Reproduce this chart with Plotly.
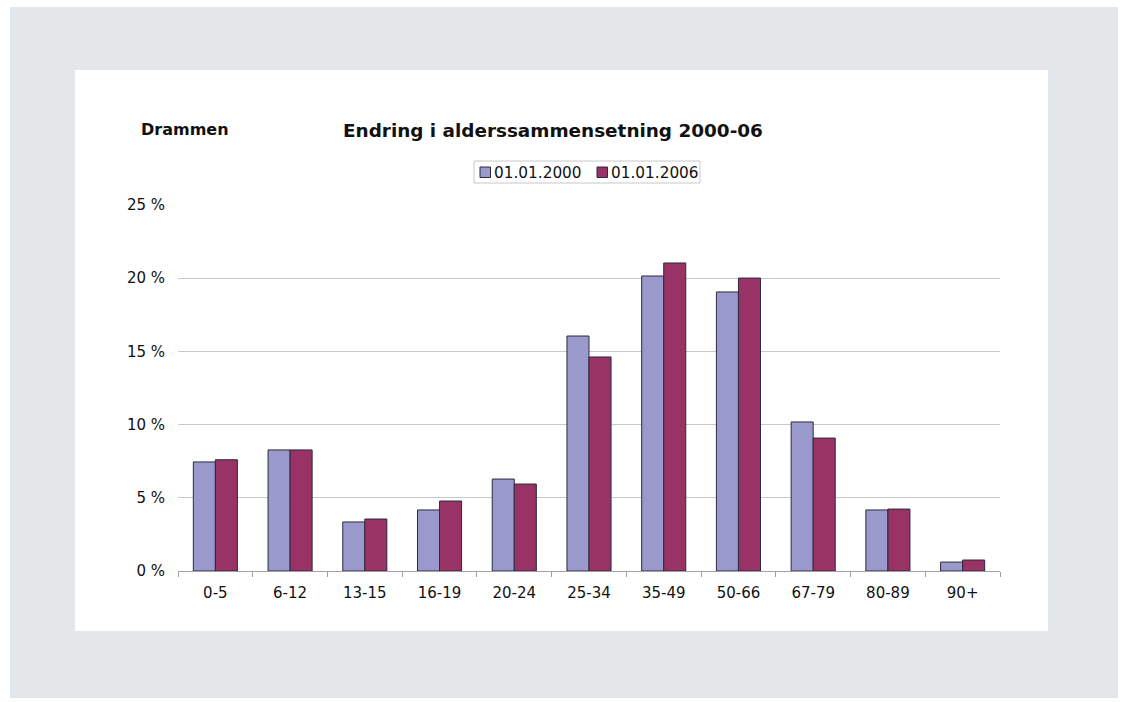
import plotly.graph_objects as go

# Age groups and share of population (%) in Drammen
age_groups = ["0-5", "6-12", "13-15", "16-19", "20-24", "25-34",
              "35-49", "50-66", "67-79", "80-89", "90+"]
share_2000 = [7.45, 8.27, 3.35, 4.17, 6.28, 16.05, 20.15, 19.06, 10.18, 4.17, 0.61]
share_2006 = [7.6, 8.27, 3.55, 4.78, 5.94, 14.62, 21.04, 20.01, 9.08, 4.23, 0.75]
series_names = ["01.01.2000", "01.01.2006"]
series_colors = ["#9999cc", "#993366"]
y_ticks = [0, 5, 10, 15, 20, 25]
y_tick_labels = ["0 %", "5 %", "10 %", "15 %", "20 %", "25 %"]

W, H = 1122, 702
L, R, T, B = 178, 1000, 205, 571  # plot area in pixels


def px(x):
    return (x - L) / (R - L)


def py(y):
    return (B - y) / (B - T)


font = "DejaVu Sans, Liberation Sans, Arial, sans-serif"
outline = "#2b2a3f"

fig = go.Figure()
for name, vals, col in zip(series_names, [share_2000, share_2006], series_colors):
    fig.add_trace(go.Bar(
        x=age_groups, y=vals, name=name,
        marker=dict(color=col, line=dict(color=outline, width=1)),
        showlegend=False,
    ))

shapes = [
    # page background and white chart panel
    dict(type="rect", xref="paper", yref="paper", layer="below",
         x0=px(10), x1=px(1118), y0=py(698), y1=py(7),
         fillcolor="#e4e7ea", line=dict(width=0)),
    dict(type="rect", xref="paper", yref="paper", layer="below",
         x0=px(75), x1=px(1048), y0=py(631), y1=py(70),
         fillcolor="#ffffff", line=dict(width=0)),
    # legend box
    dict(type="rect", xref="paper", yref="paper",
         x0=px(474), x1=px(700), y0=py(183), y1=py(161),
         fillcolor="#ffffff", line=dict(color="#c8c8c8", width=1)),
]

annotations = [
    dict(text="<b>Endring i alderssammensetning 2000-06</b>",
         xref="paper", yref="paper", x=px(553), y=py(130),
         xanchor="center", yanchor="middle", showarrow=False,
         font=dict(family=font, size=18.4, color="#111111")),
    dict(text="<b>Drammen</b>",
         xref="paper", yref="paper", x=px(139), y=py(129),
         xanchor="left", yanchor="middle", showarrow=False,
         font=dict(family=font, size=16, color="#111111")),
]

# legend entries: small outlined square followed by the series name
legend_x = [480, 597]
for name, col, lx in zip(series_names, series_colors, legend_x):
    shapes.append(dict(type="rect", xref="paper", yref="paper",
                       x0=px(lx), x1=px(lx + 10.5), y0=py(177.5), y1=py(167),
                       fillcolor=col, line=dict(color=outline, width=1)))
    annotations.append(dict(text=name, xref="paper", yref="paper",
                            x=px(lx + 12), y=py(172.5),
                            xanchor="left", yanchor="middle", showarrow=False,
                            font=dict(family=font, size=15.3, color="#111111")))

fig.update_layout(
    width=W, height=H,
    margin=dict(l=L, r=W - R, t=T, b=H - B),
    paper_bgcolor="#ffffff",
    plot_bgcolor="rgba(0,0,0,0)",
    barmode="group",
    bargap=0.41,
    bargroupgap=0,
    shapes=shapes,
    annotations=annotations,
    font=dict(family=font, size=14, color="#111111"),
    xaxis=dict(
        showgrid=False,
        showline=True, linecolor="#a0a0a0", linewidth=1,
        ticks="outside", tickson="boundaries", ticklen=5, tickcolor="#a0a0a0",
        ticklabelstandoff=8,
        tickfont=dict(family=font, size=15, color="#111111"),
    ),
    yaxis=dict(
        range=[0, 25],
        tickvals=y_ticks, ticktext=y_tick_labels,
        showgrid=True, gridcolor="#c8c8c8", gridwidth=1,
        zeroline=False, showline=False,
        ticks="", ticklabelstandoff=12,
        tickfont=dict(family=font, size=15, color="#111111"),
    ),
)

fig.write_html("out.html")
